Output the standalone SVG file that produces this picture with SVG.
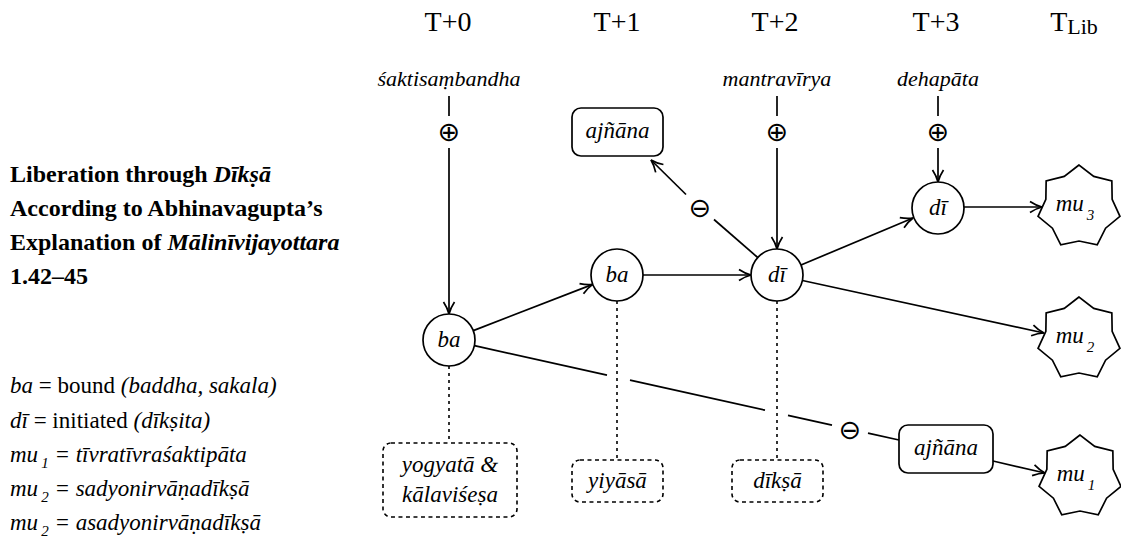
<svg xmlns="http://www.w3.org/2000/svg" width="1121" height="541" viewBox="0 0 1121 541">
<style>
text{font-family:"Liberation Serif","Times New Roman",serif;fill:#000}
.it{font-style:italic}
.hd{font-size:28px;text-anchor:middle}
.lb{font-size:22px;font-style:italic;text-anchor:middle}
.nt{font-size:23px;font-style:italic;text-anchor:middle}
.sym{font-family:"DejaVu Sans",sans-serif;font-size:27px;text-anchor:middle;dominant-baseline:central}
.ttl{font-size:24px;font-weight:bold}
.leg{font-size:23px}
.sub{font-size:15px}
.ln{fill:none;stroke:#000;stroke-width:1.7}
.dot{fill:none;stroke:#000;stroke-width:1.6;stroke-dasharray:3 4}
.dbox{fill:#fff;stroke:#000;stroke-width:1.6;stroke-dasharray:4 3.5}
.node{fill:#fff;stroke:#000;stroke-width:1.7}
</style>
<defs>
<marker id="arr" viewBox="0 0 14 14" refX="13" refY="7" markerWidth="14" markerHeight="14" markerUnits="userSpaceOnUse" orient="auto">
<path d="M1,1.5 Q7,5.5 13,7 Q7,8.5 1,12.5" fill="none" stroke="#000" stroke-width="1.7"/>
</marker>
<path id="star" d="M0,-42 L-14.75,-30.63 L-32.84,-26.19 L-33.15,-7.57 L-40.95,9.35 L-26.58,21.2 L-18.22,37.84 L0,34 L18.22,37.84 L26.58,21.2 L40.95,9.35 L33.15,-7.57 L32.84,-26.19 L14.75,-30.63 Z"/>
</defs>

<g id="title">
<text class="ttl" x="10" y="182">Liberation through <tspan class="it">Dīkṣā</tspan></text>
<text class="ttl" x="10" y="216">According to Abhinavagupta’s</text>
<text class="ttl" x="10" y="250">Explanation of <tspan class="it">Mālinīvijayottara</tspan></text>
<text class="ttl" x="10" y="284">1.42–45</text>
</g>

<g id="legend">
<text class="leg" x="10" y="393"><tspan class="it">ba</tspan> = bound <tspan class="it">(baddha, sakala)</tspan></text>
<text class="leg" x="10" y="428"><tspan class="it">dī</tspan> = initiated <tspan class="it">(dīkṣita)</tspan></text>
<text class="leg it" x="10" y="462">mu<tspan class="sub" dx="3" dy="6">1</tspan><tspan dy="-6"> = tīvratīvraśaktipāta</tspan></text>
<text class="leg it" x="10" y="496">mu<tspan class="sub" dx="3" dy="6">2</tspan><tspan dy="-6"> = sadyonirvāṇadīkṣā</tspan></text>
<text class="leg it" x="10" y="530">mu<tspan class="sub" dx="3" dy="6">2</tspan><tspan dy="-6"> = asadyonirvāṇadīkṣā</tspan></text>
</g>

<g id="headers">
<text class="hd" x="448" y="31">T+0</text>
<text class="hd" x="617" y="31">T+1</text>
<text class="hd" x="775" y="31">T+2</text>
<text class="hd" x="936" y="31">T+3</text>
<text class="hd" x="1074" y="31">T<tspan font-size="22" dy="3">Lib</tspan></text>
</g>

<g id="labels">
<text class="lb" x="449" y="86">śaktisaṃbandha</text>
<text class="lb" x="777" y="86">mantravīrya</text>
<text class="lb" x="938" y="86">dehapāta</text>
</g>

<g id="connectors">
<line class="ln" x1="449" y1="96" x2="449" y2="116"/>
<text class="sym" x="449" y="131">⊕</text>
<line class="ln" x1="449" y1="148" x2="449" y2="314" marker-end="url(#arr)"/>
<line class="ln" x1="777" y1="96" x2="777" y2="116"/>
<text class="sym" x="777" y="131">⊕</text>
<line class="ln" x1="777" y1="148" x2="777" y2="249" marker-end="url(#arr)"/>
<line class="ln" x1="938" y1="96" x2="938" y2="116"/>
<text class="sym" x="938" y="131">⊕</text>
<line class="ln" x1="938" y1="148" x2="938" y2="182" marker-end="url(#arr)"/>

<line class="ln" x1="473.3" y1="330.6" x2="592.7" y2="284.4" marker-end="url(#arr)"/>
<line class="ln" x1="643" y1="275" x2="751" y2="275" marker-end="url(#arr)"/>
<line class="ln" x1="801" y1="265" x2="913" y2="218" marker-end="url(#arr)"/>
<line class="ln" x1="964" y1="207" x2="1042" y2="207" marker-end="url(#arr)"/>
<line class="ln" x1="802.4" y1="280.5" x2="1044" y2="333" marker-end="url(#arr)"/>
<line class="ln" x1="993" y1="461" x2="1045" y2="473" marker-end="url(#arr)"/>

<line class="ln" x1="757.7" y1="257.5" x2="714" y2="219.5"/>
<text class="sym" x="700" y="207">⊖</text>
<line class="ln" x1="686" y1="194.5" x2="651" y2="160" marker-end="url(#arr)"/>

<line class="ln" x1="474.4" y1="345.6" x2="607" y2="375.1"/>
<line class="ln" x1="630" y1="380.2" x2="765" y2="410.2"/>
<line class="ln" x1="788" y1="415.3" x2="832" y2="425.1"/>
<text class="sym" x="850" y="429">⊖</text>
<line class="ln" x1="868" y1="433.1" x2="899" y2="440"/>

<line class="dot" x1="449" y1="366" x2="449" y2="443"/>
<line class="dot" x1="617" y1="301" x2="617" y2="460"/>
<line class="dot" x1="777" y1="301" x2="777" y2="460"/>
</g>

<g id="ba0"><circle class="node" cx="449" cy="340" r="26"/><text class="nt" x="449" y="347">ba</text></g>
<g id="ba1"><circle class="node" cx="617" cy="275" r="26"/><text class="nt" x="617" y="282">ba</text></g>
<g id="di1"><circle class="node" cx="777" cy="275" r="26"/><text class="nt" x="777" y="282">dī</text></g>
<g id="di2"><circle class="node" cx="938" cy="208" r="26"/><text class="nt" x="938" y="215">dī</text></g>

<g id="ajnana-top"><rect class="node" x="572" y="108" width="91" height="48" rx="9"/><text class="nt" x="617.5" y="138">ajñāna</text></g>
<g id="ajnana-bottom"><rect class="node" x="899" y="425" width="94" height="48" rx="9"/><text class="nt" x="946" y="455">ajñāna</text></g>

<g id="mu3"><use href="#star" x="1079" y="207" class="node"/><text class="nt" x="1075" y="211">mu<tspan class="sub" dx="3" dy="9">3</tspan></text></g>
<g id="mu2"><use href="#star" x="1079" y="339" class="node"/><text class="nt" x="1075" y="343">mu<tspan class="sub" dx="3" dy="9">2</tspan></text></g>
<g id="mu1"><use href="#star" x="1080" y="477" class="node"/><text class="nt" x="1076" y="481">mu<tspan class="sub" dx="3" dy="9">1</tspan></text></g>

<g id="yogyata"><rect class="dbox" x="383" y="443" width="134" height="74" rx="8"/><text class="nt" x="450" y="472">yogyatā &amp;</text><text class="nt" x="450" y="502">kālaviśeṣa</text></g>
<g id="yiyasa"><rect class="dbox" x="572" y="460" width="91" height="42" rx="8"/><text class="nt" x="617.5" y="488">yiyāsā</text></g>
<g id="diksa"><rect class="dbox" x="732" y="460" width="91" height="42" rx="8"/><text class="nt" x="777.5" y="488">dīkṣā</text></g>
</svg>
